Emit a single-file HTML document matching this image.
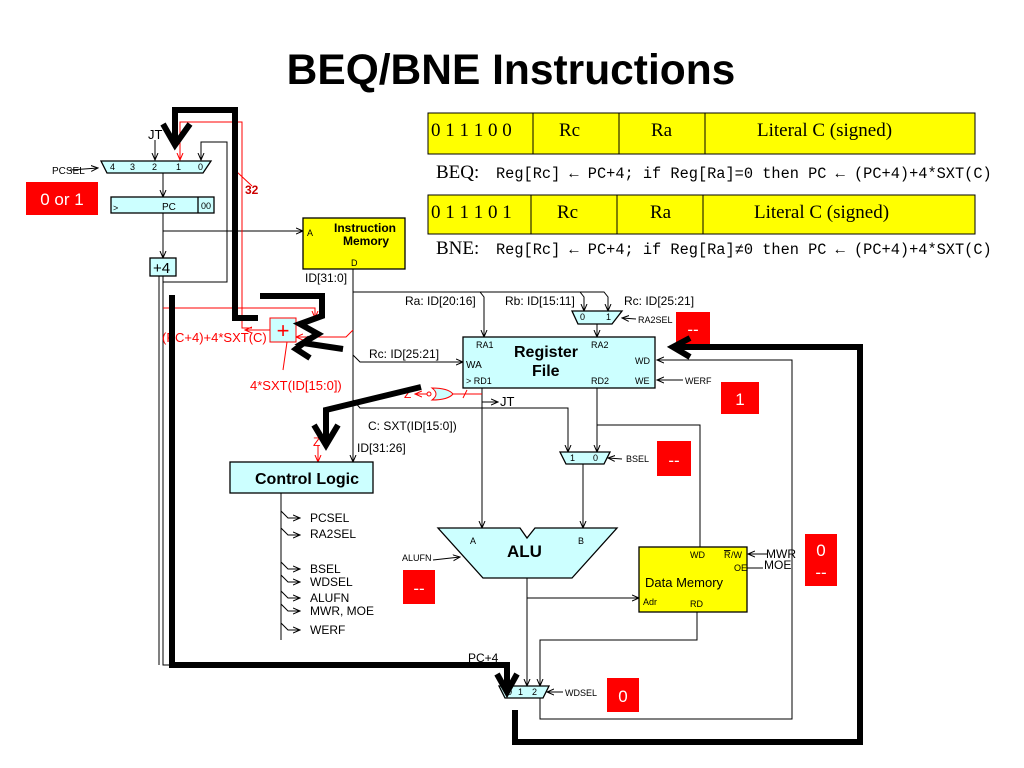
<!DOCTYPE html>
<html><head><meta charset="utf-8"><style>
body{margin:0;background:#fff}
svg{display:block}
text{font-family:"Liberation Sans",sans-serif}
text.s,tspan.s{font-family:"Liberation Serif",serif}
tspan.m{font-family:"Liberation Mono",monospace}
</style></head><body>
<svg width="1024" height="768" viewBox="0 0 1024 768" xmlns="http://www.w3.org/2000/svg">
<defs>
<marker id="a" markerWidth="8" markerHeight="8" refX="7" refY="4" orient="auto" markerUnits="userSpaceOnUse"><path d="M0,1 L7,4 L0,7" fill="none" stroke="#000" stroke-width="1"/></marker>
<marker id="r" markerWidth="8" markerHeight="8" refX="7" refY="4" orient="auto" markerUnits="userSpaceOnUse"><path d="M0,1 L7,4 L0,7" fill="none" stroke="#f00" stroke-width="1"/></marker>
</defs>
<text x="511" y="84" font-size="42.5" font-weight="bold" text-anchor="middle">BEQ/BNE Instructions</text>

<!-- encodings -->
<g stroke="#000" stroke-width="1">
<rect x="428" y="113" width="547" height="41" fill="#ff0"/>
<line x1="533" y1="113" x2="533" y2="154"/><line x1="619" y1="113" x2="619" y2="154"/><line x1="705" y1="113" x2="705" y2="154"/>
<rect x="428" y="195" width="547" height="39" fill="#ff0"/>
<line x1="531" y1="195" x2="531" y2="234"/><line x1="617" y1="195" x2="617" y2="234"/><line x1="703" y1="195" x2="703" y2="234"/>
</g>
<g font-size="19">
<text class="s" x="431" y="136">0 1 1 1 0 0</text><text class="s" x="559" y="136">Rc</text><text class="s" x="651" y="136">Ra</text><text class="s" x="757" y="136">Literal C (signed)</text>
<text class="s" x="431" y="218">0 1 1 1 0 1</text><text class="s" x="557" y="218">Rc</text><text class="s" x="650" y="218">Ra</text><text class="s" x="754" y="218">Literal C (signed)</text>
</g>
<text class="s" x="436" y="178" font-size="19">BEQ:</text>
<text x="496" y="178" font-size="15.3"><tspan class="m">Reg[Rc] ← PC+4; if Reg[Ra]=0 then PC ← (PC+4)+4*SXT(C)</tspan></text>
<text class="s" x="436" y="254" font-size="19">BNE:</text>
<text x="496" y="254" font-size="15.3"><tspan class="m">Reg[Rc] ← PC+4; if Reg[Ra]≠0 then PC ← (PC+4)+4*SXT(C)</tspan></text>

<!-- wires black thin -->
<g stroke="#000" stroke-width="1" fill="none">
<line x1="155" y1="140" x2="155" y2="160" marker-end="url(#a)"/>
<path d="M163,282 H227 V142 H201 V160" marker-end="url(#a)"/>
<line x1="163" y1="173" x2="163" y2="197" marker-end="url(#a)"/>
<line x1="163" y1="213" x2="163" y2="258" marker-end="url(#a)"/>
<line x1="163" y1="231" x2="303" y2="231" marker-end="url(#a)"/>
<path d="M163,276 V665 H172" />
<line x1="159" y1="276" x2="159" y2="665"/>
<line x1="70" y1="170" x2="98" y2="168" marker-end="url(#a)"/>
<line x1="353" y1="269" x2="353" y2="462" marker-end="url(#a)"/>
<path d="M353,292 H480 L484,297 V337" marker-end="url(#a)"/>
<path d="M480,292 H580 L584,297 V311" marker-end="url(#a)"/>
<path d="M580,292 H604 L608,297 V311" marker-end="url(#a)"/>
<line x1="597" y1="324" x2="597" y2="337" marker-end="url(#a)"/>
<line x1="636" y1="319" x2="622" y2="318" marker-end="url(#a)"/>
<path d="M353,355 L360,362 H463" marker-end="url(#a)"/>
<path d="M353,400 L360,408 H568 V452" marker-end="url(#a)"/>
<line x1="482" y1="388" x2="482" y2="528" marker-end="url(#a)"/>
<line x1="482" y1="402" x2="498" y2="402" marker-end="url(#a)"/>
<path d="M597,388 V452" marker-end="url(#a)"/>
<path d="M597,425 H700 V547"/>
<line x1="583" y1="464" x2="583" y2="528" marker-end="url(#a)"/>
<line x1="622" y1="459" x2="608" y2="458" marker-end="url(#a)"/>
<line x1="683" y1="380" x2="657" y2="380" marker-end="url(#a)"/>
<path d="M540,698 V719 H792 V360 H657" marker-end="url(#a)"/>
<line x1="527" y1="578" x2="527" y2="686" marker-end="url(#a)"/>
<line x1="527" y1="598" x2="639" y2="598" marker-end="url(#a)"/>
<path d="M697,612 V640 H540 V686" marker-end="url(#a)"/>
<line x1="563" y1="692" x2="547" y2="692" marker-end="url(#a)"/>
<line x1="433" y1="560" x2="460" y2="557" marker-end="url(#a)"/>
<line x1="767" y1="554" x2="748" y2="554" marker-end="url(#a)"/>
<line x1="747" y1="568" x2="763" y2="568"/>
<line x1="281" y1="493" x2="281" y2="640"/>
<g>
<path d="M281,511 L288,518 H300" marker-end="url(#a)"/>
<path d="M281,528 L288,535 H300" marker-end="url(#a)"/>
<path d="M281,562 L288,569 H300" marker-end="url(#a)"/>
<path d="M281,575 L288,582 H300" marker-end="url(#a)"/>
<path d="M281,591 L288,598 H300" marker-end="url(#a)"/>
<path d="M281,604 L288,611 H300" marker-end="url(#a)"/>
<path d="M281,623 L288,630 H300" marker-end="url(#a)"/>
</g>
</g>

<!-- red wires -->
<g stroke="#f00" stroke-width="1" fill="none">
<path d="M180,160 V122 H242 V328 H252"/>
<line x1="180" y1="150" x2="180" y2="160" marker-end="url(#r)"/>
<line x1="237" y1="172" x2="252" y2="186"/>
<path d="M163,308 H315 V318" marker-end="url(#r)"/>
<path d="M353,330 L346,337 H296" marker-end="url(#r)"/>
<line x1="270" y1="330" x2="245" y2="330" marker-end="url(#r)"/>
<line x1="287" y1="342" x2="283" y2="370"/>
<path d="M482,394 H453"/>
<line x1="467" y1="390" x2="463" y2="398"/>
<path d="M432,388 Q440,394 432,400 Q448,400 453,394 Q448,388 432,388 Z" fill="#cff"/>
<circle cx="429" cy="394" r="2" fill="#fff"/>
<line x1="427" y1="394" x2="415" y2="394" marker-end="url(#r)"/>
<line x1="318" y1="445" x2="318" y2="462" marker-end="url(#r)"/>
</g>
<text x="404" y="398" font-size="12" fill="#f00">Z</text>
<text x="313" y="446" font-size="12" fill="#f00">Z</text>
<text x="245" y="194" font-size="12" font-weight="bold" fill="#c00">32</text>
<text x="162" y="342" font-size="13" fill="#f00">(PC+4)+4*SXT(C)</text>
<text x="250" y="390" font-size="13" fill="#f00">4*SXT(ID[15:0])</text>
<rect x="270" y="318" width="26" height="24" fill="#cff" stroke="#f00"/>
<text x="283" y="338" font-size="22" fill="#f00" text-anchor="middle">+</text>

<!-- components -->
<g stroke="#000" stroke-width="1.3" fill="#cff">
<polygon points="101,161 211,161 203,173 107,173"/>
<rect x="111" y="197" width="103" height="16"/>
<line x1="198" y1="197" x2="198" y2="213"/>
<rect x="150" y="258" width="26" height="18"/>
<rect x="303" y="218" width="102" height="51" fill="#ff0"/>
<rect x="463" y="337" width="192" height="51"/>
<polygon points="572,311 622,311 612,324 578,324"/>
<polygon points="560,452 610,452 604,464 566,464"/>
<rect x="230" y="462" width="143" height="31"/>
<polygon points="438,528 520,528 527,538 535,528 617,528 572,578 483,578"/>
<rect x="639" y="547" width="108" height="65" fill="#ff0"/>
<polygon points="499,686 549,686 543,698 505,698"/>
</g>
<g font-size="9">
<text x="110" y="170">4</text><text x="130" y="170">3</text><text x="152" y="170">2</text><text x="176" y="170">1</text><text x="198" y="170">0</text>
<text x="52" y="174" font-size="10">PCSEL</text>
<text x="162" y="210" font-size="10">PC</text><text x="201" y="209">00</text>
<text x="113" y="211">&gt;</text>
<text x="307" y="236">A</text><text x="351" y="266">D</text>
<text x="580" y="320">0</text><text x="606" y="320">1</text>
<text x="638" y="323">RA2SEL</text>
<text x="476" y="348">RA1</text><text x="591" y="348">RA2</text>
<text x="466" y="368" font-size="10">WA</text><text x="466" y="384">&gt; RD1</text>
<text x="591" y="384">RD2</text><text x="635" y="364">WD</text><text x="635" y="384">WE</text>
<text x="685" y="384">WERF</text>
<text x="570" y="461">1</text><text x="593" y="461">0</text>
<text x="626" y="462">BSEL</text>
<text x="470" y="544">A</text><text x="578" y="544">B</text>
<text x="402" y="561">ALUFN</text>
<text x="690" y="558">WD</text><text x="724" y="558" text-decoration="overline">R</text><text x="731" y="558">/W</text>
<text x="734" y="571">OE</text><text x="643" y="605">Adr</text><text x="690" y="607">RD</text>
<text x="507" y="695">0</text><text x="518" y="695">1</text><text x="532" y="695">2</text>
<text x="565" y="696">WDSEL</text>
</g>
<text x="148" y="139" font-size="13">JT</text>
<text x="153" y="273" font-size="15">+4</text>
<text x="334" y="232" font-size="12" font-weight="bold">Instruction</text>
<text x="343" y="245" font-size="12" font-weight="bold">Memory</text>
<text x="305" y="282" font-size="12">ID[31:0]</text>
<g font-size="12">
<text x="405" y="305">Ra: ID[20:16]</text><text x="505" y="305">Rb: ID[15:11]</text><text x="624" y="305">Rc: ID[25:21]</text>
<text x="369" y="358">Rc: ID[25:21]</text>
<text x="500" y="406" font-size="13">JT</text>
<text x="368" y="430">C: SXT(ID[15:0])</text>
<text x="357" y="452">ID[31:26]</text>
<text x="310" y="522">PCSEL</text><text x="310" y="538">RA2SEL</text>
<text x="310" y="573">BSEL</text><text x="310" y="586">WDSEL</text><text x="310" y="602">ALUFN</text>
<text x="310" y="615">MWR, MOE</text><text x="310" y="634">WERF</text>
<text x="766" y="558">MWR</text><text x="764" y="569">MOE</text>
<text x="645" y="587" font-size="13">Data Memory</text>
<text x="468" y="662">PC+4</text>
</g>
<text x="514" y="357" font-size="16" font-weight="bold">Register</text>
<text x="532" y="376" font-size="16" font-weight="bold">File</text>
<text x="255" y="484" font-size="16" font-weight="bold">Control Logic</text>
<text x="507" y="557" font-size="17" font-weight="bold">ALU</text>

<!-- red boxes -->
<g fill="#f00">
<rect x="26" y="182" width="72" height="33"/>
<rect x="676" y="312" width="34" height="32"/>
<rect x="721" y="382" width="38" height="32"/>
<rect x="657" y="441" width="34" height="35"/>
<rect x="403" y="570" width="32" height="34"/>
<rect x="805" y="534" width="32" height="52"/>
<rect x="607" y="678" width="32" height="34"/>
</g>
<g fill="#fff" font-size="17" text-anchor="middle">
<text x="62" y="205">0 or 1</text>
<text x="693" y="335">--</text>
<text x="740" y="405">1</text>
<text x="674" y="466">--</text>
<text x="419" y="594">--</text>
<text x="821" y="556">0</text><text x="821" y="578">--</text>
<text x="623" y="702">0</text>
</g>

<!-- thick black arrows -->
<g stroke="#000" stroke-width="6" fill="none" stroke-linejoin="miter">
<path d="M258,318 H235 V110 H175 V143"/>
<path d="M163,124 L175,145 L190,124"/>
<path d="M260,296 H322 V316 L300,324 L318,334 L303,343 L343,349"/>
<path d="M310,338 L296,349 L310,358"/>
<path d="M421,387 L326,410 V440"/>
<path d="M314,425 L326,445 L338,425"/>
<path d="M172,295 V665 H507 V688"/>
<path d="M497,674 L507,692 L517,674"/>
<path d="M515,710 V742 H860 V347 H675"/>
<path d="M690,338 L673,347 L690,357"/>
</g>
</svg>
</body></html>
